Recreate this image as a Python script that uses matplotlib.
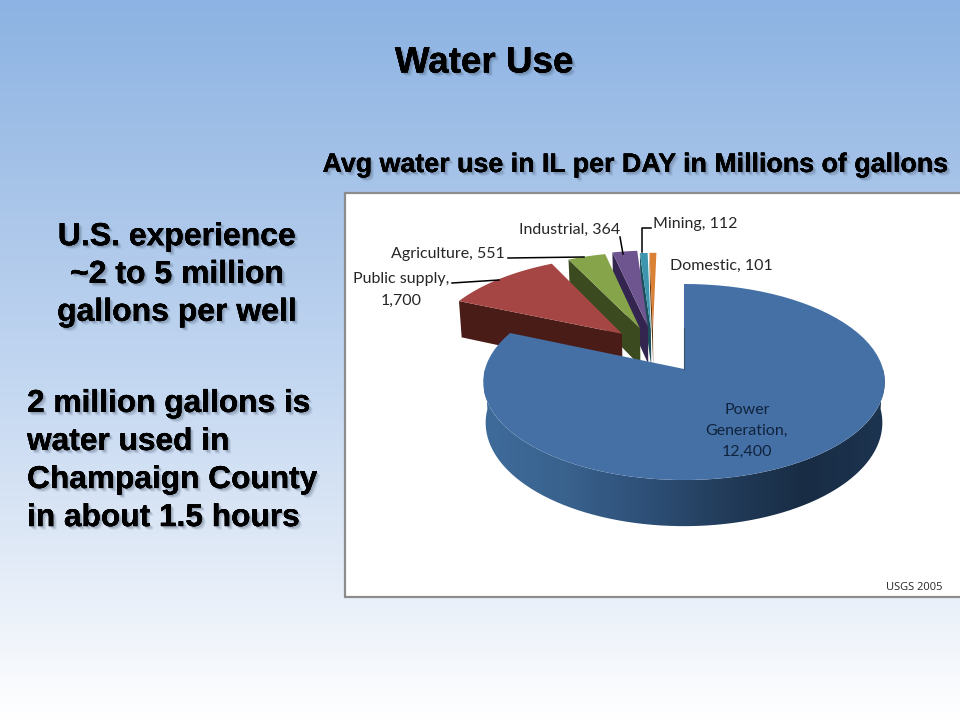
import numpy as np
import matplotlib
matplotlib.use('Agg')
import matplotlib.pyplot as plt
import matplotlib.patheffects as pe
from matplotlib.colors import LinearSegmentedColormap
from matplotlib.patches import Polygon, Rectangle

categories = ['Power Generation', 'Public supply', 'Agriculture', 'Industrial', 'Mining', 'Domestic']
values = [12400, 1700, 551, 364, 112, 101]
top_colors = ['#4470A6', '#A64644', '#86A44A', '#6F558F', '#3E96AE', '#DA8136']
side_colors = ['#2C4C70', '#4A1C18', '#3C4A20', '#33254F', '#1C4E5C', '#6B3C14']
# how far each slice is pulled out, in units of the pie radius (right, back)
explode = [(0, 0), (-0.328, 0.385), (-0.2345, 0.445), (-0.193, 0.47), (-0.176, 0.436), (-0.165, 0.436)]

# perspective of the pie, in pixels
X0, Y0 = 684, 369
A, B, K = 199, 96.3, 0.1327
DEPTH = 40

BOLD = dict(family='Liberation Sans', weight='bold', color='black')
LABEL = dict(family='Lato', color='#262626', fontsize=11.5)


def project(u, v, down=0.0):
    s = 1 / (1 + K * v)
    return X0 + A * u * s * (1 - 0.012 * down), Y0 - B * v * s + DEPTH * s * down


def rim(t0, t1, off, down=0.0, n=80):
    t = np.radians(np.linspace(t0, t1, n))
    return project(off[0] + np.sin(t), off[1] + np.cos(t), down)


def shadow_text(x, y, s, size, spacing=1.0, **kw):
    t = ax.text(x, y, s, fontsize=size, va='center', linespacing=spacing, **BOLD, **kw)
    t.set_path_effects([
        pe.withSimplePatchShadow(offset=(2.6, -2.6), shadow_rgbFace='#3a4a60', alpha=0.1),
        pe.withSimplePatchShadow(offset=(1.8, -1.8), shadow_rgbFace='#3a4a60', alpha=0.16),
        pe.withSimplePatchShadow(offset=(1.0, -1.0), shadow_rgbFace='#3a4a60', alpha=0.18),
        pe.Normal(),
    ])


fig = plt.figure(figsize=(9.6, 7.2), dpi=100)
ax = fig.add_axes([0, 0, 1, 1])

bg = LinearSegmentedColormap.from_list('bg', ['#8CB3E3', '#A6C3E8', '#C0D5F0', '#DEE8F6', '#FFFFFF'])
ax.imshow(np.linspace(0, 1, 256).reshape(-1, 1), cmap=bg, extent=(0, 960, 720, 0), aspect='auto', zorder=0)
ax.add_patch(Rectangle((345, 193), 630, 404, fc='white', ec='#8C8C8C', lw=1.6, zorder=1))

# angles clockwise from the back of the pie, power generation first
angles = np.concatenate([[0], np.cumsum(values) / np.sum(values) * 360])

# small slices first, back to front, the red one last
z = 2
for i in range(len(values) - 1, 0, -1):
    t0, t1 = angles[i], angles[i + 1]
    off = explode[i]
    tip = project(off[0], off[1])
    tip_low = project(off[0], off[1], 1)
    edge = project(off[0] + np.sin(np.radians(t0)), off[1] + np.cos(np.radians(t0)))
    edge_low = project(off[0] + np.sin(np.radians(t0)), off[1] + np.cos(np.radians(t0)), 1)
    ax.add_patch(Polygon([edge, tip, tip_low, edge_low], fc=side_colors[i], ec='none', zorder=z))
    xs, ys = rim(t0, t1, off)
    ax.add_patch(Polygon(np.vstack([[tip], np.column_stack([xs, ys])]), fc=top_colors[i], ec='none', zorder=z + 0.5))
    z += 1

# big slice: outer wall with the shading, then the top
t_end = angles[1]
xt, yt = rim(90, 270, (0, 0))
xb, yb = rim(90, 270, (0, 0), 1)
wall = Polygon(np.vstack([np.column_stack([xt, yt]), np.column_stack([xb, yb])[::-1]]), fc='none', ec='none',
               transform=ax.transData, zorder=z)
ax.add_patch(wall)
shade = LinearSegmentedColormap.from_list('shade', ['#3F6B9B', '#39628D', '#2E5078', '#223C5A', '#182C44', '#1D3450'])
im = ax.imshow(np.linspace(0, 1, 256).reshape(1, -1), cmap=shade, extent=(484, 886, 530, 370), aspect='auto', zorder=z)
im.set_clip_path(wall)
z += 1

xs, ys = rim(0, t_end, (0, 0))
ax.add_patch(Polygon(np.vstack([[project(0, 0)], np.column_stack([xs, ys])]), fc=top_colors[0], ec='none', zorder=z))
# thin dark edge beside the gap
p0, p1 = project(0, 0.45), project(0, 0)
ax.plot([p0[0], p1[0]], [p0[1], p1[1]], color='#3a5270', lw=0.8, zorder=z)

# labels and leader lines
ax.text(747, 431, 'Power\nGeneration,\n12,400', ha='center', va='center', family='Lato', color='#10233c',
        fontsize=11.5, linespacing=1.63, multialignment='center', zorder=z + 1)
ax.text(449, 290, 'Public supply,\n1,700', ha='right', va='center', multialignment='center', linespacing=1.7,
        zorder=z + 1, **LABEL)
ax.text(505, 254, 'Agriculture, 551', ha='right', va='center', zorder=z + 1, **LABEL)
ax.text(620, 230, 'Industrial, 364', ha='right', va='center', zorder=z + 1, **LABEL)
ax.text(653, 224, 'Mining, 112', ha='left', va='center', zorder=z + 1, **LABEL)
ax.text(670, 266, 'Domestic, 101', ha='left', va='center', zorder=z + 1, **LABEL)
ax.text(942, 587, 'USGS 2005', ha='right', va='center', family='Open Sans', color='#262626', fontsize=8, zorder=z + 1)
for xl, yl in [([452, 499], [283, 280]), ([508, 584], [258, 257]), ([620, 623], [237, 254]),
               ([651, 642, 642], [228, 228, 252])]:
    ax.plot(xl, yl, color='black', lw=1.1, zorder=z + 1)

shadow_text(484, 63, 'Water Use', 26.5, ha='center', zorder=z + 2)
shadow_text(634, 165, 'Avg water use in IL per DAY in Millions of gallons', 19.3, ha='center', zorder=z + 2)
shadow_text(177, 275, 'U.S. experience\n~2 to 5 million\ngallons per well', 23, spacing=1.34, ha='center',
            multialignment='center', zorder=z + 2)
shadow_text(27, 461, '2 million gallons is\nwater used in\nChampaign County\nin about 1.5 hours', 22.8, spacing=1.35,
            ha='left', zorder=z + 2)

ax.set_xlim(0, 960)
ax.set_ylim(720, 0)
ax.axis('off')
fig.savefig('out.png', dpi=100)
